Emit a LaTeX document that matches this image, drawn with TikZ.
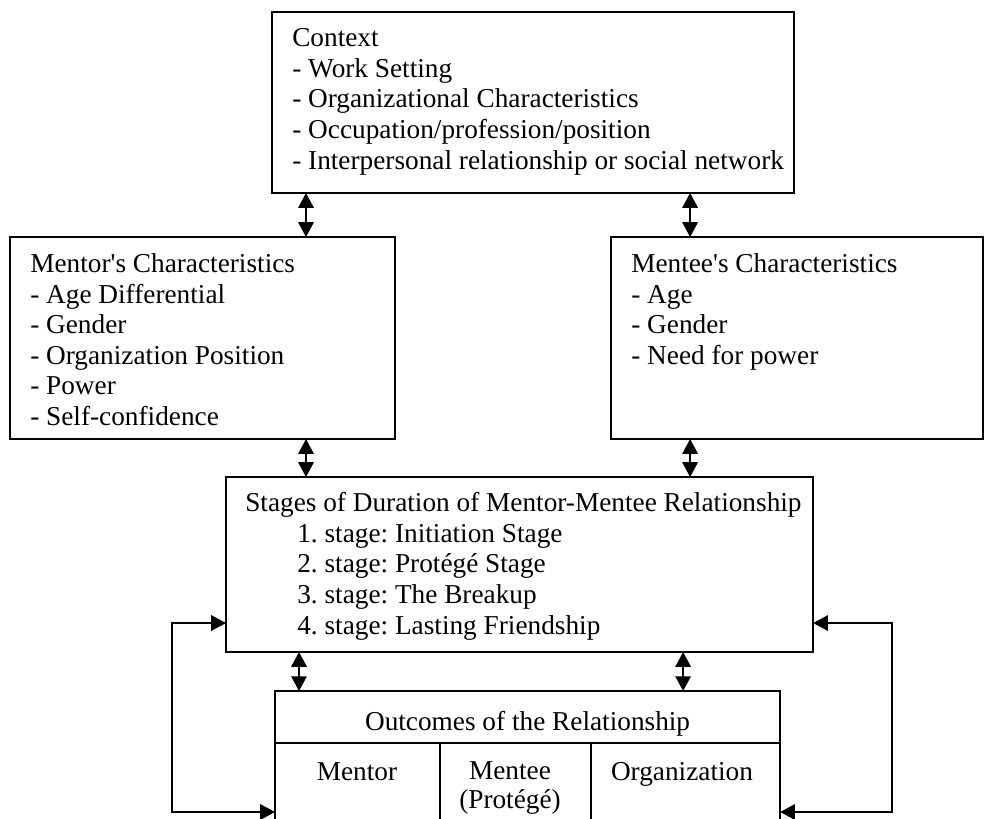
\documentclass[tikz,border=0pt]{standalone}
\usepackage{fontspec}
\setmainfont{Liberation Serif}
\usetikzlibrary{arrows.meta,calc}

\tikzset{
    box/.style={draw, line width=1.1pt, inner sep=0pt, outer sep=0pt, anchor=north west},
    txt/.style={anchor=base west, align=left, inner sep=0pt, font=\fontsize{19.4}{21.7}\selectfont\frenchspacing},
    ctxt/.style={anchor=base, align=center, inner sep=0pt, font=\fontsize{19.4}{20}\selectfont},
    both/.style={line width=1.1pt, {Triangle[width=11pt,length=10.5pt]}-{Triangle[width=11pt,length=10.5pt]}},
}

\begin{document}
\begin{tikzpicture}[x=0.025cm,y=-0.025cm]
    \useasboundingbox (0,0) rectangle (984,818);
    \clip (0,0) rectangle (984,818);
    % boxes
    \node[box, minimum width=13.05cm, minimum height=4.525cm] (ctx) at (272,12) {};
    \node[box, minimum width=9.625cm, minimum height=5.05cm] (mtr) at (10,237) {};
    \node[box, minimum width=9.3cm, minimum height=5.05cm] (mte) at (611,237) {};
    \node[box, minimum width=14.675cm, minimum height=4.375cm] (stg) at (226,477) {};
    \node[box, minimum width=12.625cm, minimum height=4cm] (out) at (275,691) {};
    \draw[line width=1.1pt] ($(out.north west)+(0,52)$) coordinate (hl) -- (hl -| out.east);
    \draw[line width=1.1pt] ($(hl)+(165,0)$) coordinate (c1) -- (c1 |- out.south);
    \draw[line width=1.1pt] ($(hl)+(316,0)$) coordinate (c2) -- (c2 |- out.south);

    % texts (base = last line)
    \node[txt] (ctxtext) at ($(ctx.north west)+(20,157)$) {Context\\- Work Setting\\- Organizational Characteristics\\- Occupation/profession/position\\- Interpersonal relationship or social network};
    \node[txt] (mtrtext) at ($(mtr.north west)+(20,188.5)$) {Mentor\textquotesingle s Characteristics\\- Age Differential\\- Gender\\- Organization Position\\- Power\\- Self-confidence};
    \node[txt] (mtetext) at ($(mte.north west)+(20,127.5)$) {Mentee\textquotesingle s Characteristics\\- Age\\- Gender\\- Need for power};
    \node[txt] (stgtext) at ($(stg.north west)+(19,157)$) {Stages of Duration of Mentor-Mentee Relationship\\
        \hspace*{1.3cm}1. stage: Initiation Stage\\
        \hspace*{1.3cm}2. stage: Protégé Stage\\
        \hspace*{1.3cm}3. stage: The Breakup\\
        \hspace*{1.3cm}4. stage: Lasting Friendship};
    \node[ctxt] (outhead) at ($(out.north)+(0,39)$) {Outcomes of the Relationship};
    \node[ctxt] (outmtr) at ($(out.north west)+(82,89)$) {Mentor};
    \node[ctxt] (outmte) at ($(out.north west)+(235,117)$) {Mentee\\(Protégé)};
    \node[ctxt] (outorg) at ($(out.north west)+(407,89)$) {Organization};

    % arrows
    \draw[both] ([xshift=0.85cm]ctx.south west) coordinate (a1) -- (a1 |- mtr.north);
    \draw[both] ([xshift=10.45cm]ctx.south west) coordinate (a2) -- (a2 |- mte.north);
    \draw[both] (a1 |- mtr.south) -- (a1 |- stg.north);
    \draw[both] (a2 |- mte.south) -- (a2 |- stg.north);
    \draw[both] ([xshift=0.6cm]out.north west) coordinate (a3) -- (a3 |- stg.south);
    \draw[both] ([xshift=10.2cm]out.north west) coordinate (a4) -- (a4 |- stg.south);

    % feedback loops
    \coordinate (lt) at (172,623);
    \coordinate (lb) at (172,812);
    \coordinate (rt) at (892,623);
    \coordinate (rb) at (892,812);
    \draw[both] (lt -| stg.west) -- (lt) -- (lb) -- (lb -| out.west);
    \draw[both] (rt -| stg.east) -- (rt) -- (rb) -- (rb -| out.east);
\end{tikzpicture}
\end{document}
